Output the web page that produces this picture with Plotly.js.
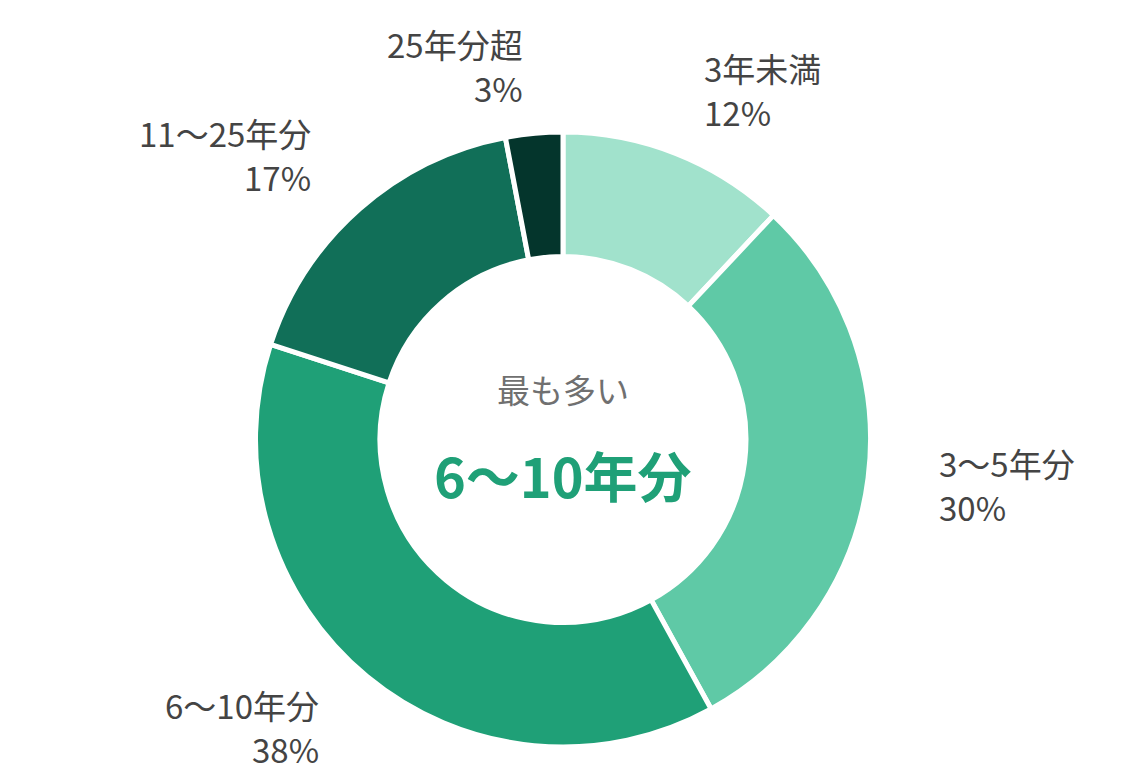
<!DOCTYPE html>
<html>
<head>
<meta charset="utf-8">
<script src="https://cdn.plot.ly/plotly-3.0.1.min.js"></script>
<style>
  html, body { margin: 0; padding: 0; background: #fff; }
  #chart { width: 1148px; height: 780px; }
</style>
</head>
<body>
<div id="chart"></div>
<script>
// data
const categories = ['3年未満', '3〜5年分', '6〜10年分', '11〜25年分', '25年分超'];
const shares = [12, 30, 38, 17, 3];
const sliceColors = ['#a1e2cc', '#5fc9a6', '#1fa077', '#116f58', '#04352c'];

const centerCaption = '最も多い';

// where each outside label sits (page pixels), and which side it hangs from
const labelSpots = [
  {x: 702, y: 68,  side: 'left'},
  {x: 937, y: 463, side: 'left'},
  {x: 321, y: 705, side: 'right'},
  {x: 313, y: 133, side: 'right'},
  {x: 525, y: 44,  side: 'right'}
];
const lineGap = 44;

const W = 1148, H = 780;
const M = {l: 0, r: 22, t: 132, b: 33};
const FONT = '"Noto Sans CJK JP", "Noto Sans", sans-serif';

// pixel -> paper
function px(x) { return (x - M.l) / (W - M.l - M.r) }
function py(y) { return 1 - (y - M.t) / (H - M.t - M.b) }

// biggest slice goes in the middle
let topIdx = 0;
for (let i = 1; i < shares.length; i++) {
  if (shares[i] > shares[topIdx]) topIdx = i;
}

let annotations = [];
for (let i = 0; i < categories.length; i++) {
  let spot = labelSpots[i];
  let base = {
    xref: 'paper', yref: 'paper', showarrow: false,
    xanchor: spot.side, yanchor: 'middle',
    align: spot.side,
    font: {family: FONT, size: 33, color: '#444444'}
  };
  annotations.push(Object.assign({}, base, {x: px(spot.x), y: py(spot.y), text: categories[i]}));
  annotations.push(Object.assign({}, base, {x: px(spot.x), y: py(spot.y + lineGap), text: shares[i] + '%'}));
}

annotations.push({
  xref: 'paper', yref: 'paper', showarrow: false,
  x: px(563), y: py(389), xanchor: 'center', yanchor: 'middle',
  text: centerCaption,
  font: {family: FONT, size: 33, color: '#707070'}
});
annotations.push({
  xref: 'paper', yref: 'paper', showarrow: false,
  x: px(563), y: py(474), xanchor: 'center', yanchor: 'middle',
  text: '<b>' + categories[topIdx] + '</b>',
  font: {family: FONT, size: 54, color: sliceColors[topIdx]}
});

var trace = {
  type: 'pie',
  labels: categories,
  values: shares,
  sort: false,
  direction: 'clockwise',
  rotation: 0,
  hole: 0.595,
  textinfo: 'none',
  hoverinfo: 'none',
  marker: {
    colors: sliceColors,
    line: {color: '#ffffff', width: 5}
  }
};

var layout = {
  width: W,
  height: H,
  margin: M,
  showlegend: false,
  paper_bgcolor: '#ffffff',
  font: {family: FONT},
  annotations: annotations
};

Plotly.newPlot('chart', [trace], layout, {displayModeBar: false, staticPlot: true});
</script>
</body>
</html>
